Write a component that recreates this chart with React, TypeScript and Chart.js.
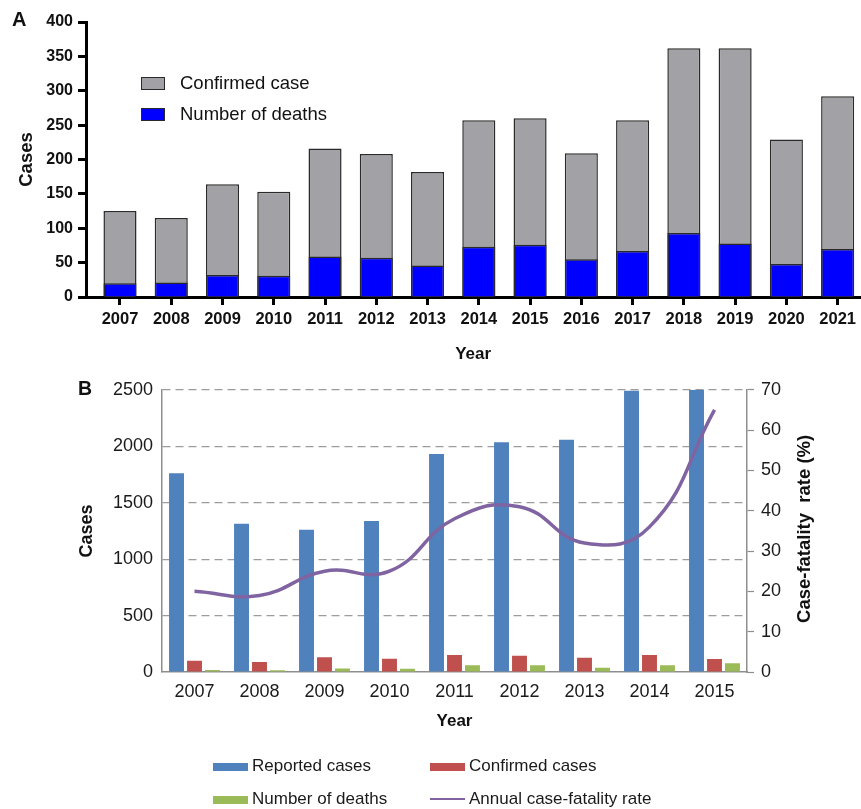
import React, { useEffect, useRef } from "react";
import { Chart, registerables } from "chart.js";

Chart.register(...registerables);

const FONT = "'Liberation Sans', Arial, Helvetica, sans-serif";

// ---------- Panel A data ----------
const yearsA = [2007, 2008, 2009, 2010, 2011, 2012, 2013, 2014, 2015, 2016, 2017, 2018, 2019, 2020, 2021];
const confirmedCaseA = [125, 115, 164, 153, 216, 208, 182, 257, 260, 209, 257, 362, 362, 229, 292];
const deathsA = [20, 21, 32, 31, 59, 57, 46, 73, 76, 55, 67, 93, 78, 48, 70];
const yTicksA = [0, 50, 100, 150, 200, 250, 300, 350, 400];
const seriesNamesA = ["Confirmed case", "Number of deaths"];

// ---------- Panel B data ----------
const yearsB = ["2007", "2008", "2009", "2010", "2011", "2012", "2013", "2014", "2015"];
const reportedB = [1760, 1313, 1260, 1337, 1932, 2035, 2058, 2491, 2500];
const confirmedB = [100, 88, 130, 118, 150, 144, 126, 150, 115];
const deathsB = [18, 16, 30, 29, 59, 59, 38, 59, 77];
const fatalityRateB = [20, 19, 25, 25, 38, 41, 32, 36, 65];
const yTicksB = [0, 500, 1000, 1500, 2000, 2500];
const y1TicksB = [0, 10, 20, 30, 40, 50, 60, 70];
const seriesNamesB = ["Reported cases", "Confirmed cases", "Number of deaths", "Annual case-fatality rate"];

// ---------- styles ----------
const GRAY_A = "#a2a2a6";
const BLUE_A = "#0000ff";
const EDGE_A = "#2a2a2a";
const BLUE_B = "#4f81bd";
const RED_B = "#c0504d";
const GREEN_B = "#9bbb59";
const PURPLE_B = "#8064a2";
const AXIS_B = "#8e8e8e";
const GRID_B = "#9c9c9c";

function ChartA() {
  const ref = useRef<HTMLCanvasElement>(null);
  useEffect(() => {
    const chart = new Chart(ref.current as HTMLCanvasElement, {
      type: "bar",
      data: {
        datasets: [
          {
            label: seriesNamesA[0],
            data: yearsA.map((x, i) => ({ x, y: confirmedCaseA[i] })),
            backgroundColor: GRAY_A,
            borderColor: EDGE_A,
            borderWidth: 1.5,
            grouped: false,
            order: 1,
            categoryPercentage: 1,
            barPercentage: 0.645,
          } as any,
          {
            label: seriesNamesA[1],
            data: yearsA.map((x, i) => ({ x, y: deathsA[i] })),
            backgroundColor: BLUE_A,
            borderColor: EDGE_A,
            borderWidth: 1.5,
            grouped: false,
            order: 0,
            categoryPercentage: 1,
            barPercentage: 0.645,
          } as any,
        ],
      },
      options: {
        responsive: false,
        animation: false,
        layout: { padding: { top: 22, left: 0, right: 0, bottom: 0 } },
        plugins: { legend: { display: false }, tooltip: { enabled: false } },
        scales: {
          x: {
            type: "linear",
            offset: false,
            min: yearsA[0] - 0.663,
            max: yearsA[yearsA.length - 1] + 0.44,
            afterBuildTicks: (s: any) => {
              s.ticks = yearsA.map((v) => ({ value: v }));
            },
            afterFit: (s: any) => {
              s.height = 73;
            },
            grid: { offset: false, drawOnChartArea: false, drawTicks: true, tickLength: 8, tickWidth: 3, tickColor: "#000" },
            border: { display: true, color: "#000", width: 3 },
            ticks: {
              padding: 5,
              maxRotation: 0,
              autoSkip: false,
              color: "#111",
              font: { family: FONT, size: 16.5, weight: "bold" },
              callback: (v: any) => String(v),
            },
            title: {
              display: true,
              text: "Year",
              color: "#111",
              font: { family: FONT, size: 17, weight: "bold" },
              padding: { top: 0, bottom: 5 },
            },
          } as any,
          y: {
            min: 0,
            max: 400,
            afterBuildTicks: (s: any) => {
              s.ticks = yTicksA.map((v) => ({ value: v }));
            },
            afterFit: (s: any) => {
              s.width = 86;
            },
            grid: { drawOnChartArea: false, drawTicks: true, tickLength: 8, tickWidth: 3, tickColor: "#000" },
            border: { display: true, color: "#000", width: 3 },
            ticks: {
              padding: 5,
              color: "#111",
              font: { family: FONT, size: 16, weight: "bold" },
            },
            title: {
              display: true,
              text: "Cases",
              color: "#111",
              font: { family: FONT, size: 18.5, weight: "bold" },
              padding: { top: 16, bottom: 0 },
            },
          } as any,
        },
      },
    });
    return () => chart.destroy();
  }, []);
  return <canvas ref={ref} width={861} height={370} style={{ position: "absolute", left: 0, top: 0 }} />;
}

const rightTitlePlugin = {
  id: "rightTitle",
  afterDraw(chart: any) {
    const { ctx, chartArea } = chart;
    const s = chart.scales.y1;
    ctx.save();
    ctx.translate(s.right - 56, (chartArea.top + chartArea.bottom) / 2 - 2);
    ctx.rotate(-Math.PI / 2);
    ctx.font = `bold 18.5px ${FONT}`;
    ctx.fillStyle = "#111";
    ctx.textAlign = "center";
    ctx.textBaseline = "middle";
    ctx.fillText("Case-fatality  rate (%)", 0, 0);
    ctx.restore();
  },
};

function ChartB() {
  const ref = useRef<HTMLCanvasElement>(null);
  useEffect(() => {
    const tickFont = { family: FONT, size: 18 };
    const chart = new Chart(ref.current as HTMLCanvasElement, {
      type: "bar",
      data: {
        labels: yearsB,
        datasets: [
          {
            type: "line",
            label: seriesNamesB[3],
            data: fatalityRateB,
            yAxisID: "y1",
            borderColor: PURPLE_B,
            backgroundColor: PURPLE_B,
            borderWidth: 3.5,
            tension: 0.45,
            pointRadius: 0,
            fill: false,
            order: 0,
          } as any,
          { label: seriesNamesB[0], data: reportedB, backgroundColor: BLUE_B, yAxisID: "y", order: 1 },
          { label: seriesNamesB[1], data: confirmedB, backgroundColor: RED_B, yAxisID: "y", order: 1 },
          { label: seriesNamesB[2], data: deathsB, backgroundColor: GREEN_B, yAxisID: "y", order: 1 },
        ],
      },
      options: {
        responsive: false,
        animation: false,
        datasets: { bar: { categoryPercentage: 0.83, barPercentage: 0.83 } } as any,
        layout: { padding: { top: 19, left: 0, right: 0, bottom: 0 } },
        plugins: { legend: { display: false }, tooltip: { enabled: false } },
        scales: {
          x: {
            afterFit: (s: any) => {
              s.height = 137;
            },
            grid: { display: false, drawTicks: false },
            border: { display: true, color: AXIS_B, width: 1.5 },
            ticks: { padding: 9, maxRotation: 0, autoSkip: false, color: "#1a1a1a", font: tickFont },
            title: {
              display: true,
              text: "Year",
              color: "#111",
              font: { family: FONT, size: 17, weight: "bold" },
              padding: { top: 0, bottom: 77 },
            },
          } as any,
          y: {
            position: "left",
            min: 0,
            max: 2500,
            afterBuildTicks: (s: any) => {
              s.ticks = yTicksB.map((v) => ({ value: v }));
            },
            afterFit: (s: any) => {
              s.width = 162;
            },
            grid: {
              drawOnChartArea: true,
              drawTicks: false,
              lineWidth: 1.2,
              color: (c: any) => (c.tick && c.tick.value === 0 ? "rgba(0,0,0,0)" : GRID_B),
            },
            border: { display: true, color: AXIS_B, width: 1.5, dash: [8, 5] },
            ticks: { padding: 9, color: "#1a1a1a", font: tickFont, callback: (v: any) => String(v) },
            title: {
              display: true,
              text: "Cases",
              color: "#111",
              font: { family: FONT, size: 18, weight: "bold" },
              padding: { top: 76, bottom: 0 },
            },
          } as any,
          y1: {
            position: "right",
            min: 0,
            max: 70,
            afterBuildTicks: (s: any) => {
              s.ticks = y1TicksB.map((v) => ({ value: v }));
            },
            afterFit: (s: any) => {
              s.width = 114;
            },
            grid: { drawOnChartArea: false, drawTicks: true, tickLength: 7, tickWidth: 1.2, tickColor: AXIS_B },
            border: { display: true, color: AXIS_B, width: 1.5 },
            ticks: { padding: 7, color: "#1a1a1a", font: tickFont, callback: (v: any) => String(v) },
            title: { display: false },
          } as any,
        },
      },
      plugins: [rightTitlePlugin],
    });
    return () => chart.destroy();
  }, []);
  return <canvas ref={ref} width={861} height={439} style={{ position: "absolute", left: 0, top: 370 }} />;
}

const abs = (o: any): React.CSSProperties => ({ position: "absolute", whiteSpace: "nowrap", ...o });

export default function App() {
  const legendA = [
    { name: seriesNamesA[0], color: GRAY_A, boxTop: 77, textTop: 74.3 },
    { name: seriesNamesA[1], color: BLUE_A, boxTop: 108, textTop: 105 },
  ];
  const legendB = [
    { name: seriesNamesB[0], color: BLUE_B, left: 213, row: 0, kind: "box" },
    { name: seriesNamesB[1], color: RED_B, left: 430, row: 0, kind: "box" },
    { name: seriesNamesB[2], color: GREEN_B, left: 213, row: 1, kind: "box" },
    { name: seriesNamesB[3], color: PURPLE_B, left: 430, row: 1, kind: "line" },
  ];
  const rowBaseline = [771, 804];
  return (
    <div
      style={{
        position: "absolute",
        left: 0,
        top: 0,
        width: 861,
        height: 809,
        overflow: "hidden",
        background: "#fff",
        fontFamily: FONT,
        color: "#111",
      }}
    >
      <ChartA />
      <ChartB />
      <div style={abs({ left: 12, top: 9, fontSize: 20, lineHeight: "20px", fontWeight: "bold" })}>A</div>
      <div style={abs({ left: 78, top: 378.5, fontSize: 19.5, lineHeight: "19.5px", fontWeight: "bold" })}>B</div>
      {legendA.map((it) => (
        <React.Fragment key={it.name}>
          <div
            style={abs({
              left: 141,
              top: it.boxTop,
              width: 24,
              height: 12.5,
              background: it.color,
              border: `1.5px solid ${EDGE_A}`,
              boxSizing: "border-box",
            })}
          />
          <div style={abs({ left: 180, top: it.textTop, fontSize: 18.5, lineHeight: "18.5px" })}>{it.name}</div>
        </React.Fragment>
      ))}
      {legendB.map((it) => {
        const base = rowBaseline[it.row];
        return (
          <React.Fragment key={it.name}>
            {it.kind === "box" ? (
              <div style={abs({ left: it.left, top: base - 8.5, width: 35, height: 8.5, background: it.color })} />
            ) : (
              <div style={abs({ left: it.left, top: base - 6.5, width: 35, height: 2.5, background: it.color })} />
            )}
            <div style={abs({ left: it.left + 39, top: base - 14.4, fontSize: 17, lineHeight: "17px", color: "#1a1a1a" })}>
              {it.name}
            </div>
          </React.Fragment>
        );
      })}
    </div>
  );
}
